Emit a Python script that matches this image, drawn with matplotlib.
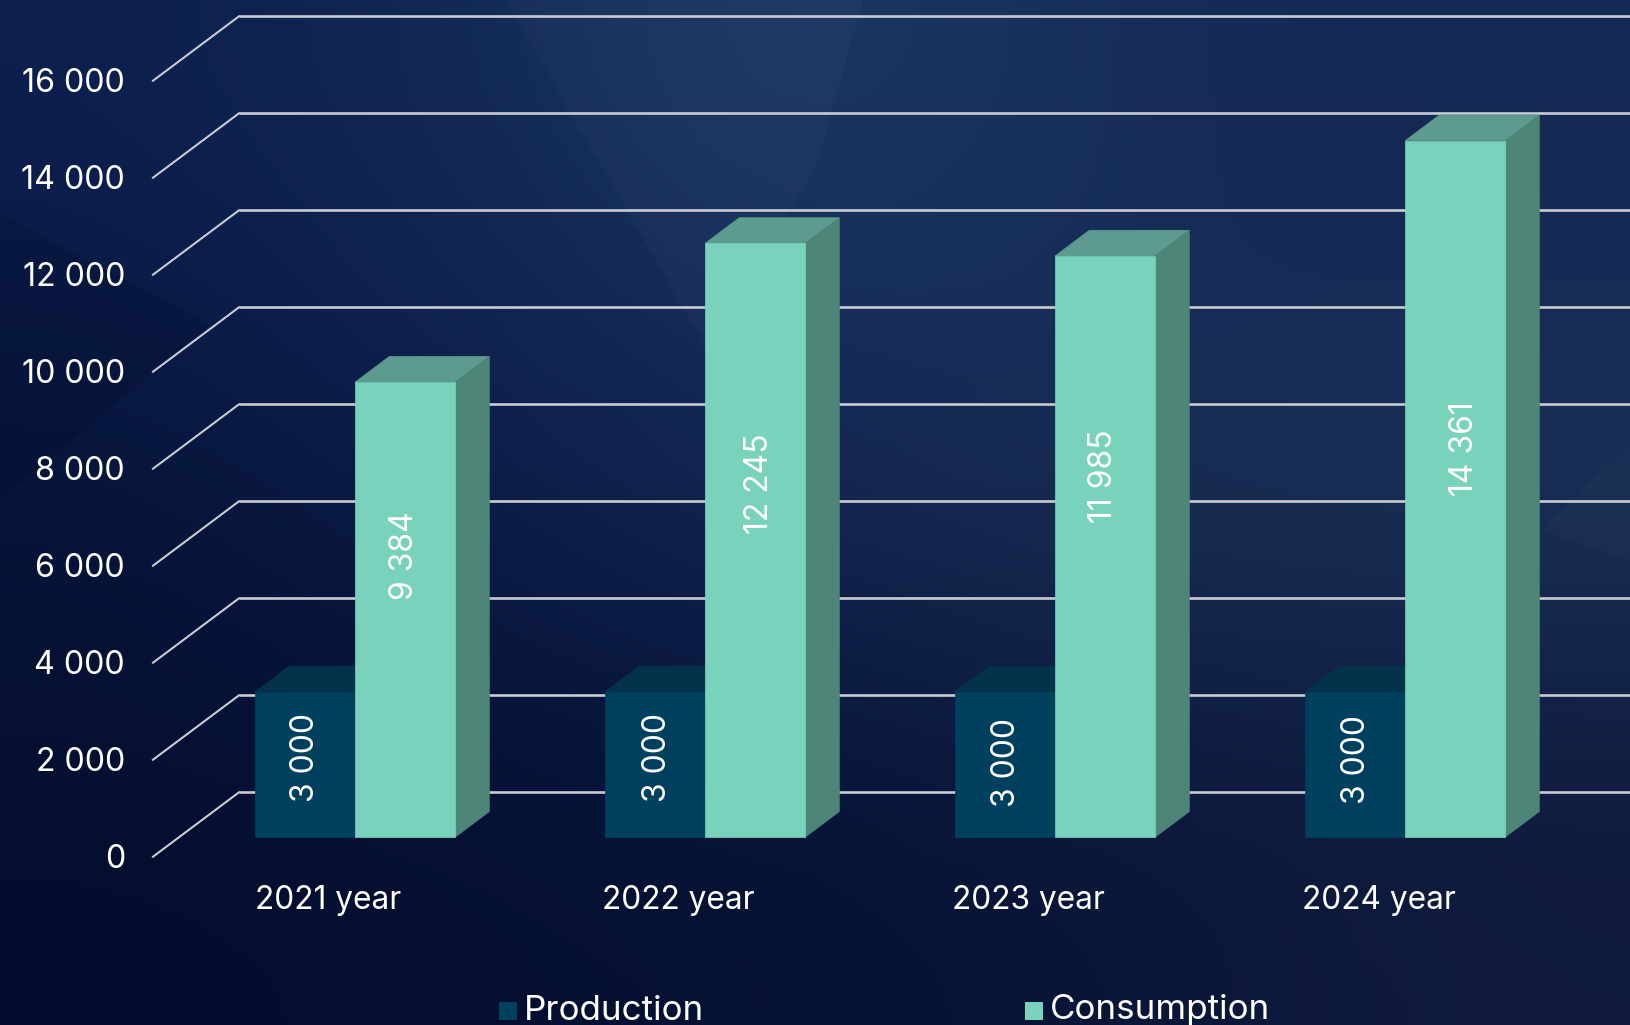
import matplotlib
matplotlib.use("Agg")
import matplotlib.pyplot as plt
from matplotlib.colors import to_rgb
from matplotlib.patches import Polygon, Rectangle
import numpy as np

# ===============================
# Data
# ===============================
years = ["2021 year", "2022 year", "2023 year", "2024 year"]
production = [3000, 3000, 3000, 3000]
consumption = [9384, 12245, 11985, 14361]
y_ticks = [0, 2000, 4000, 6000, 8000, 10000, 12000, 14000, 16000]

# Label placement along each bar (value axis units, x shift in category units)
production_label_y = [1655, 1655, 1552, 1614]
production_label_dx = [-0.010, -0.006, -0.009, -0.009]
consumption_label_y = [5800, 7284, 7450, 8010]
consumption_label_dx = [-0.014, 0.0, -0.017, 0.014]

# ===============================
# Scales (px per category, px per value unit)
# ===============================
W, H = 1630, 1025
PX_X = 350.0
PX_Y = 0.0485
X_ORIGIN = 355.0
Y_ORIGIN = 837.3

BAR_W = 100.0 / PX_X
DEPTH_X = 34.3 / PX_X
DEPTH_Y = 25.7 / PX_Y
# front and back edge of the floor, relative to the left bar front corner
WALL_FRONT = (-102.0 / PX_X, -19.4 / PX_Y)
WALL_BACK = (-16.0 / PX_X, 45.0 / PX_Y)

PROD_FRONT, PROD_TOP = "#00405f", "#03334a"
CONS_FRONT, CONS_TOP, CONS_SIDE = "#78d2bc", "#5c9b8e", "#4e8579"
GRID = "#c9cbd2"
FONT = ["Inter", "DejaVu Sans"]


def money(v):
    return f"{v:,}".replace(",", " ")


def draw_box(ax, x, value, front, top, side=None):
    ax.add_patch(Polygon([(x, value), (x + BAR_W, value), (x + BAR_W + DEPTH_X, value + DEPTH_Y),
                          (x + DEPTH_X, value + DEPTH_Y)], fc=top, ec=top, lw=0.5, zorder=3))
    if side is not None:
        ax.add_patch(Polygon([(x + BAR_W, 0), (x + BAR_W + DEPTH_X, DEPTH_Y),
                              (x + BAR_W + DEPTH_X, value + DEPTH_Y), (x + BAR_W, value)],
                             fc=side, ec=side, lw=0.5, zorder=3))
    ax.add_patch(Rectangle((x, 0), BAR_W, value, fc=front, ec=front, lw=0.5, zorder=4))


fig = plt.figure(figsize=(W / 100, H / 100), dpi=100)
ax = fig.add_axes([0, 0, 1, 1])
xlim = (-X_ORIGIN / PX_X, (W - X_ORIGIN) / PX_X)
ylim = (-(H - Y_ORIGIN) / PX_Y, Y_ORIGIN / PX_Y)
ax.axis("off")

# ===============================
# Background
# ===============================
bg_rows = [
    ["#0d1f4e", "#122a58", "#1e3b66", "#152b57", "#132a55"],
    ["#0a1a45", "#102456", "#172f5c", "#142c57", "#152c56"],
    ["#071438", "#0c1c48", "#14264f", "#1a2e52", "#1a3055"],
    ["#051033", "#07143a", "#0a1840", "#0e1c42", "#121f44"],
    ["#040d2d", "#040f30", "#061233", "#0a1637", "#101b3c"],
]
bg = np.array([[to_rgb(c) for c in row] for row in bg_rows])
ax.imshow(bg, extent=(xlim[0], xlim[1], ylim[0], ylim[1]), origin="upper", aspect="auto",
          interpolation="bicubic", zorder=0)
ax.set_xlim(xlim)
ax.set_ylim(ylim)


def to_data(px, py):
    return ((px - X_ORIGIN) / PX_X, (Y_ORIGIN - py) / PX_Y)


# faint light wedges behind the grid
ax.add_patch(Polygon([to_data(*p) for p in [(505, 0), (863, 0), (815, 170), (705, 345)]],
                     fc="white", alpha=0.025, lw=0, zorder=1))
ax.add_patch(Polygon([to_data(*p) for p in [(0, 213), (210, 325), (0, 500)]],
                     fc="#000a28", alpha=0.2, lw=0, zorder=1))
ax.add_patch(Polygon([to_data(*p) for p in [(1630, 445), (1540, 530), (1630, 560)]],
                     fc="white", alpha=0.015, lw=0, zorder=1))

# ===============================
# Grid and value axis
# ===============================
left = -1.0 * BAR_W  # left corner of the first bar in category units
x_back = left + WALL_BACK[0]
x_front = left + WALL_FRONT[0]
x_end = xlim[1]
for tick in y_ticks:
    y_back = tick + WALL_BACK[1]
    y_front = tick + WALL_FRONT[1]
    ax.plot([x_back, x_end], [y_back, y_back], color=GRID, lw=1.9, zorder=2,
            solid_capstyle="butt")
    ax.plot([x_front, x_back], [y_front, y_back], color=GRID, lw=1.5, zorder=2)
    ax.text(x_front - 28 / PX_X, y_front - 3 / PX_Y, money(tick), color="white", fontsize=23.2,
            family=FONT, ha="right", va="center", zorder=6)

# ===============================
# Bars
# ===============================
for i, year in enumerate(years):
    draw_box(ax, i - BAR_W, production[i], PROD_FRONT, PROD_TOP)
    draw_box(ax, i, consumption[i], CONS_FRONT, CONS_TOP, CONS_SIDE)

    ax.text(i - BAR_W / 2 + production_label_dx[i] + 0.012, production_label_y[i],
            money(production[i]), color="white", fontsize=23, family=FONT, rotation=90,
            ha="center", va="center", zorder=6)
    ax.text(i + BAR_W / 2 + consumption_label_dx[i] + 0.012, consumption_label_y[i],
            money(consumption[i]), color="white", fontsize=23, family=FONT, rotation=90,
            ha="center", va="center", zorder=6)
    ax.text(i - 26.5 / PX_X, -63.7 / PX_Y, year, color="white", fontsize=22.8,
            family=FONT, ha="center", va="center", zorder=6)

# ===============================
# Legend
# ===============================
legend = [("Production", PROD_FRONT, 499), ("Consumption", CONS_FRONT, 1025)]
for name, color, px in legend:
    x0, y0 = to_data(px, 1020)
    ax.add_patch(Rectangle((x0, y0), 18 / PX_X, 18 / PX_Y, fc=color, lw=0, zorder=6))
    x_txt, y_txt = to_data(px + 25, 1019.5)
    ax.text(x_txt, y_txt, name, color="white", fontsize=25.2,
            family=FONT, ha="left", va="baseline", zorder=6)

plt.savefig("out.png", dpi=100)
plt.close()
